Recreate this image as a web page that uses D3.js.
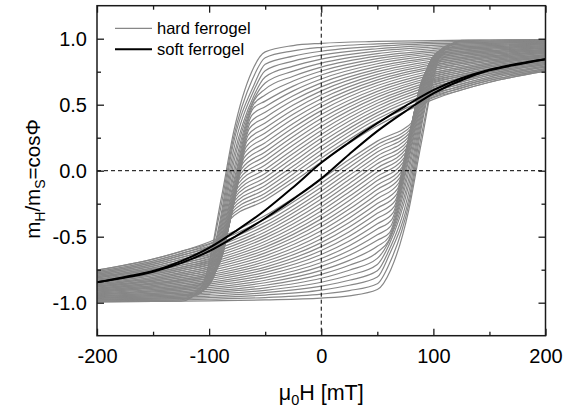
<!DOCTYPE html>
<html>
<head>
<meta charset="utf-8">
<script src="https://cdn.jsdelivr.net/npm/d3@7"></script>
<style>
  html, body { margin: 0; padding: 0; background: #ffffff; }
  svg { display: block; font-family: "Liberation Sans", Arial, Helvetica, sans-serif; }
</style>
</head>
<body>
<svg id="chart" width="575" height="410"></svg>
<script>
// ---------------- axis ticks ----------------
const xMajorTicks = [-200, -100, 0, 100, 200];
const xTickLabels = ["-200", "-100", "0", "100", "200"];
const xMinorTicks = [-150, -50, 50, 150];
const yMajorTicks = [-1.0, -0.5, 0.0, 0.5, 1.0];
const yTickLabels = ["-1.0", "-0.5", "0.0", "0.5", "1.0"];
const yMinorTicks = [-0.75, -0.25, 0.25, 0.75];

const legendLabels = ["hard ferrogel", "soft ferrogel"];

// ---------------- hard ferrogel: family of loops ----------------
// Descending branch of every loop, m_H/m_S at fixed fields (mT).
const hardAt200 = [.993,.987,.980,.974,.967,.961,.954,.947,.940,.933,.926,.919,.911,.904,.897,.889,.880,.872,.864,.856,.848,.839,.830,.821,.812,.803,.793,.784,.774,.764,.754];
const hardAt150 = [.990,.982,.973,.965,.956,.947,.938,.929,.919,.910,.900,.890,.880,.870,.860,.850,.839,.829,.818,.807,.796,.784,.772,.760,.748,.736,.723,.710,.697,.684,.670];
const hardAt100 = [.986,.974,.962,.950,.937,.925,.912,.899,.886,.873,.859,.846,.832,.818,.803,.789,.775,.759,.743,.728,.712,.697,.681,.665,.648,.631,.613,.595,.577,.559,.540];
const hardAt50 = [.979,.961,.942,.924,.906,.887,.868,.849,.830,.810,.790,.770,.750,.730,.709,.688,.667,.645,.623,.601,.579,.557,.534,.511,.488,.464,.440,.416,.391,.366,.340];
const hardAt0 = [.965,.935,.905,.875,.845,.815,.785,.755,.725,.695,.665,.635,.605,.575,.545,.515,.485,.455,.425,.395,.365,.335,.305,.275,.245,.215,.185,.155,.125,.095,.065];
const hardAtMinus25 = [.948,.908,.868,.830,.792,.754,.716,.679,.641,.605,.568,.533,.497,.462,.427,.393,.358,.325,.291,.259,.226,.194,.161,.130,.098,.067,.036,.006,-.025,-.055,-.084];
const hardAtMinus50 = [.900,.856,.806,.758,.710,.664,.618,.573,.527,.485,.442,.402,.361,.323,.285,.249,.212,.177,.142,.109,.075,.043,.010,-.021,-.052,-.082,-.112,-.141,-.170,-.197,-.224];

// Switching (steep) part of each descending branch: four (field, m) points.
const switchField1 = [-62,-61,-60,-60,-60,-59.5,-60,-60.5,-61,-62,-63,-64,-65,-66,-67,-68,-69,-70,-71,-72,-73,-74,-75,-76,-77,-78,-79,-80,-81,-82,-83];
const switchValue1 = [.750,.700,.650,.610,.570,.550,.530,.500,.469,.419,.368,.320,.272,.227,.181,.138,.095,.055,.014,-.025,-.063,-.099,-.135,-.169,-.202,-.234,-.266,-.297,-.327,-.355,-.383];
const switchField2 = [-78,-78.5,-79,-78.5,-78.0,-77.3,-76.6,-76.25,-75.9,-75.85,-75.8,-75.95,-76.1,-76.3,-76.5,-76.9,-77.3,-77.65,-78.0,-78.4,-78.8,-79.25,-79.7,-80.2,-80.7,-81.2,-81.7,-82.25,-82.8,-83.3,-83.8];
const switchValue2 = [.300,.240,.180,.145,.110,.087,.060,.029,-.003,-.029,-.055,-.081,-.107,-.131,-.155,-.179,-.203,-.223,-.243,-.263,-.282,-.300,-.317,-.332,-.347,-.361,-.374,-.387,-.399,-.410,-.420];
const switchField3 = [-89,-90.3,-91.3,-91,-90.7,-90.05,-89.4,-88.9,-88.4,-87.8,-87.2,-86.75,-86.3,-86.0,-85.7,-85.5,-85.3,-85.05,-84.8,-84.7,-84.6,-84.5,-84.4,-84.35,-84.3,-84.35,-84.4,-84.45,-84.5,-84.6,-84.7];
const switchValue3 = [-.200,-.310,-.420,-.437,-.454,-.456,-.457,-.466,-.475,-.477,-.478,-.482,-.485,-.489,-.492,-.496,-.500,-.500,-.500,-.500,-.500,-.500,-.499,-.495,-.491,-.487,-.482,-.477,-.471,-.463,-.455];
const switchField4 = [-106,-108,-110,-108.5,-107,-105.4,-103.8,-102.15,-100.5,-99.5,-98.5,-97.75,-97,-96.5,-96,-95,-94,-93,-92,-91.25,-90.5,-89.75,-89,-88.5,-88,-87.5,-87,-86.5,-86,-85.75,-85.5];
const switchValue4 = [-.870,-.905,-.940,-.930,-.920,-.910,-.900,-.885,-.870,-.855,-.840,-.828,-.815,-.800,-.785,-.771,-.757,-.740,-.722,-.705,-.687,-.671,-.655,-.635,-.615,-.595,-.575,-.554,-.532,-.511,-.490];

// After switching, towards negative saturation.
const hardAtMinus125 = [-.988,-.978,-.968,-.958,-.948,-.938,-.928,-.917,-.905,-.894,-.883,-.871,-.859,-.847,-.835,-.823,-.810,-.797,-.784,-.771,-.757,-.744,-.730,-.716,-.701,-.686,-.671,-.656,-.640,-.626,-.611];
const hardAtMinus150 = [-.990,-.982,-.973,-.965,-.956,-.947,-.938,-.929,-.919,-.910,-.900,-.890,-.880,-.870,-.860,-.850,-.839,-.829,-.818,-.807,-.796,-.784,-.772,-.760,-.748,-.736,-.723,-.710,-.697,-.684,-.670];
const hardAtMinus200 = [-.993,-.987,-.980,-.974,-.967,-.961,-.954,-.947,-.940,-.933,-.926,-.919,-.911,-.904,-.897,-.889,-.880,-.872,-.864,-.856,-.848,-.839,-.830,-.821,-.812,-.803,-.793,-.784,-.774,-.764,-.754];

// ---------------- soft ferrogel: single loop ----------------
const softFields = [-200,-175,-150,-125,-100,-75,-50,-25,0,25,50,75,100,125,150,175,200];
const softDown = [-.845,-.805,-.760,-.685,-.585,-.450,-.300,-.125,.060,.215,.360,.490,.610,.700,.765,.810,.845];
const softUp   = [-.845,-.810,-.765,-.700,-.610,-.490,-.360,-.215,-.060,.125,.300,.450,.585,.685,.760,.805,.845];

// ---------------- layout ----------------
const FONT = '"Liberation Sans", Arial, Helvetica, sans-serif';
const plot = { left: 97, right: 545.5, top: 5.7, bottom: 335.7 };
const axisColor = "#1a1a1a";
const hardColor = "#878787";

const svg = d3.select("#chart");
const x = d3.scaleLinear().domain([-200, 200]).range([plot.left, plot.right]);
const y = d3.scaleLinear().domain([-1.25, 1.25]).range([plot.bottom, plot.top]);

svg.append("defs").append("clipPath").attr("id", "plotClip")
  .append("rect")
  .attr("x", plot.left).attr("y", plot.top)
  .attr("width", plot.right - plot.left).attr("height", plot.bottom - plot.top);

const line = d3.line()
  .x(d => x(d[0]))
  .y(d => y(d[1]))
  .curve(d3.curveMonotoneX);

const plotArea = svg.append("g").attr("clip-path", "url(#plotClip)");

// hard ferrogel loops: descending branch and its point-mirrored ascending branch
const gHard = plotArea.append("g")
  .attr("fill", "none")
  .attr("stroke", hardColor)
  .attr("stroke-width", 1.2);

hardAt0.forEach((_, k) => {
  const down = [
    [-200, hardAtMinus200[k]],
    [-150, hardAtMinus150[k]],
    [-125, hardAtMinus125[k]],
    [switchField4[k], switchValue4[k]],
    [switchField3[k], switchValue3[k]],
    [switchField2[k], switchValue2[k]],
    [switchField1[k], switchValue1[k]],
    [-50, hardAtMinus50[k]],
    [-25, hardAtMinus25[k]],
    [0, hardAt0[k]],
    [50, hardAt50[k]],
    [100, hardAt100[k]],
    [150, hardAt150[k]],
    [200, hardAt200[k]]
  ];
  const up = down.map(([h, m]) => [-h, -m]).reverse();
  gHard.append("path").attr("d", line(down));
  gHard.append("path").attr("d", line(up));
});

// zero lines
plotArea.append("line")
  .attr("x1", x(0)).attr("x2", x(0))
  .attr("y1", plot.top).attr("y2", plot.bottom)
  .attr("stroke", "#000").attr("stroke-width", 1).attr("stroke-dasharray", "4,3");
plotArea.append("line")
  .attr("x1", plot.left).attr("x2", plot.right)
  .attr("y1", y(0)).attr("y2", y(0))
  .attr("stroke", "#000").attr("stroke-width", 1).attr("stroke-dasharray", "4,3");

// soft ferrogel loop
const gSoft = plotArea.append("g")
  .attr("fill", "none")
  .attr("stroke", "#000")
  .attr("stroke-width", 2);
gSoft.append("path").attr("d", line(softFields.map((h, i) => [h, softDown[i]])));
gSoft.append("path").attr("d", line(softFields.map((h, i) => [h, softUp[i]])));

// ---------------- axes ----------------
function tidy(g, fontSize) {
  g.attr("font-family", null).attr("font-size", null);
  g.select(".domain").remove();
  g.selectAll(".tick line").attr("stroke", axisColor).attr("stroke-width", 1.3);
  g.selectAll(".tick text")
    .attr("fill", "#000")
    .style("font-family", FONT)
    .style("font-size", fontSize + "px");
}

// bottom
svg.append("g").attr("transform", `translate(0,${plot.bottom})`)
  .call(d3.axisBottom(x).tickValues(xMajorTicks).tickFormat((d, i) => xTickLabels[i])
    .tickSize(-7).tickSizeOuter(0).tickPadding(13))
  .call(g => tidy(g, 20));
svg.append("g").attr("transform", `translate(0,${plot.bottom})`)
  .call(d3.axisBottom(x).tickValues(xMinorTicks).tickFormat("").tickSize(-4).tickSizeOuter(0))
  .call(g => tidy(g, 20));
// top
svg.append("g").attr("transform", `translate(0,${plot.top})`)
  .call(d3.axisTop(x).tickValues(xMajorTicks).tickFormat("").tickSize(-7).tickSizeOuter(0))
  .call(g => tidy(g, 20));
svg.append("g").attr("transform", `translate(0,${plot.top})`)
  .call(d3.axisTop(x).tickValues(xMinorTicks).tickFormat("").tickSize(-4).tickSizeOuter(0))
  .call(g => tidy(g, 20));
// left
svg.append("g").attr("transform", `translate(${plot.left},0)`)
  .call(d3.axisLeft(y).tickValues(yMajorTicks).tickFormat((d, i) => yTickLabels[i])
    .tickSize(-7).tickSizeOuter(0).tickPadding(10))
  .call(g => tidy(g, 20));
svg.append("g").attr("transform", `translate(${plot.left},0)`)
  .call(d3.axisLeft(y).tickValues(yMinorTicks).tickFormat("").tickSize(-4).tickSizeOuter(0))
  .call(g => tidy(g, 20));
// right
svg.append("g").attr("transform", `translate(${plot.right},0)`)
  .call(d3.axisRight(y).tickValues(yMajorTicks).tickFormat("").tickSize(-7).tickSizeOuter(0))
  .call(g => tidy(g, 20));
svg.append("g").attr("transform", `translate(${plot.right},0)`)
  .call(d3.axisRight(y).tickValues(yMinorTicks).tickFormat("").tickSize(-4).tickSizeOuter(0))
  .call(g => tidy(g, 20));

// frame
svg.append("rect")
  .attr("x", plot.left).attr("y", plot.top)
  .attr("width", plot.right - plot.left).attr("height", plot.bottom - plot.top)
  .attr("fill", "none").attr("stroke", axisColor).attr("stroke-width", 1.5);

// ---------------- axis titles ----------------
const xTitle = svg.append("text")
  .attr("x", (plot.left + plot.right) / 2).attr("y", 400)
  .attr("text-anchor", "middle")
  .style("font-size", "21.5px").attr("fill", "#000");
xTitle.append("tspan").text("\u03bc");
xTitle.append("tspan").attr("dy", 5).style("font-size", "14.5px").text("0");
xTitle.append("tspan").attr("dy", -5).text("H [mT]");

const yTitle = svg.append("text")
  .attr("transform", "translate(40,179) rotate(-90)")
  .attr("text-anchor", "middle")
  .style("font-size", "20.5px").attr("fill", "#000");
yTitle.append("tspan").text("m");
yTitle.append("tspan").attr("dy", 5).style("font-size", "14px").text("H");
yTitle.append("tspan").attr("dy", -5).text("/m");
yTitle.append("tspan").attr("dy", 5).style("font-size", "14px").text("S");
yTitle.append("tspan").attr("dy", -5).text("=cos\u03a6");

// ---------------- legend ----------------
const legend = svg.append("g");
const legendStyles = [
  { stroke: hardColor, width: 1.2, y: 28.3 },
  { stroke: "#000", width: 2, y: 49.3 }
];
legendLabels.forEach((label, i) => {
  const s = legendStyles[i];
  legend.append("line")
    .attr("x1", 115).attr("x2", 152)
    .attr("y1", s.y).attr("y2", s.y)
    .attr("stroke", s.stroke).attr("stroke-width", s.width);
  legend.append("text")
    .attr("x", 157).attr("y", s.y + 5.2)
    .style("font-size", "16.5px").attr("fill", "#000")
    .text(label);
});
</script>
</body>
</html>
